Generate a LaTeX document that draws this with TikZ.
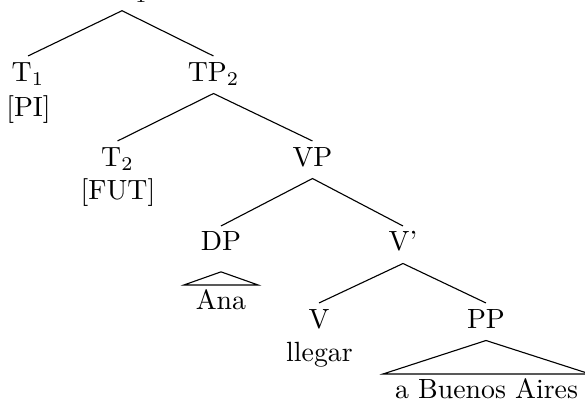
\documentclass[tikz,border=0pt]{standalone}
\begin{document}
\begin{tikzpicture}[x=0.3597pt,y=-0.3597pt,
  lab/.style={anchor=base,inner xsep=4.3pt,inner ysep=0pt,text height=7pt,text depth=2.5pt,outer ysep=2pt,outer xsep=0pt},
  txt/.style={anchor=base,inner sep=0pt},
  branch/.style={line width=0.4pt}]
\useasboundingbox (0,0) rectangle (585,401);
\node[lab] (TP1) at (122,-1.8) {TP$_1$};
\node[lab] (T1) at (28,81) {T$_1$};
\node[txt] (PI) at (28.5,116) {[PI]};
\node[lab] (TP2) at (213.5,81) {TP$_2$};
\node[lab] (T2) at (117.5,166) {T$_2$};
\node[txt] (FUT) at (118,199) {[FUT]};
\node[lab] (VP) at (312.5,166) {VP};
\node[lab] (DP) at (221,251) {DP};
\node[lab] (Ana) at (221,310) {Ana};
\node[lab] (Vbar) at (403,251) {V'};
\node[lab] (V) at (319,328) {V};
\node[txt] (llegar) at (319.5,361) {llegar};
\node[lab] (PP) at (486,328) {PP};
\node[lab] (ABA) at (486.5,399) {a Buenos Aires};
\coordinate (DProof) at ([yshift=-3pt]DP.south);
\draw[branch] (T1.north) -- (TP1.south) -- (TP2.north);
\draw[branch] (T2.north) -- (TP2.south) -- (VP.north);
\draw[branch] (DP.north) -- (VP.south) -- (Vbar.north);
\draw[branch] (V.north) -- (Vbar.south) -- (PP.north);
\draw[branch] (DProof) -- (Ana.north west) -- (Ana.north east) -- cycle;
\draw[branch] (PP.south) -- (ABA.north west) -- (ABA.north east) -- cycle;
\end{tikzpicture}
\end{document}
